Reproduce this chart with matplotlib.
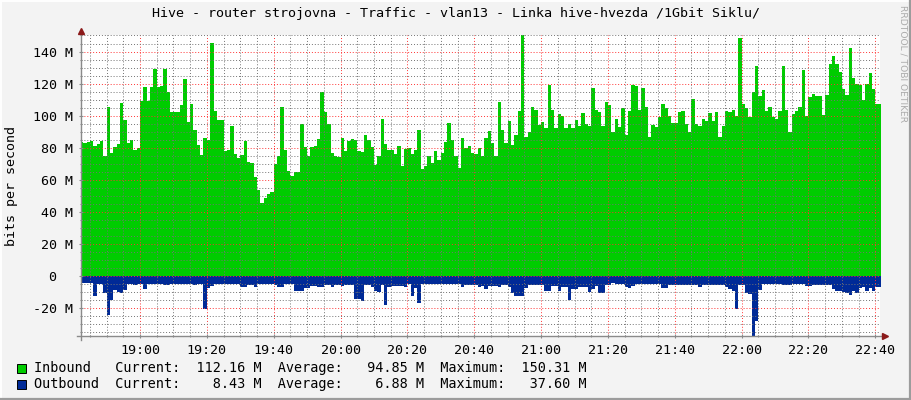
import numpy as np
import matplotlib
matplotlib.use("Agg")
import matplotlib.pyplot as plt
from matplotlib.patches import Rectangle
from matplotlib.lines import Line2D
from matplotlib.ticker import FixedLocator

# ---------------- data ----------------
title = "Hive - router strojovna - Traffic - vlan13 - Linka hive-hvezda /1Gbit Siklu/"
y_axis_label = "bits per second"
start_time = "18:42"   # time of first 1-minute sample

inbound_mbps = [
    83.7, 82.7, 83.7, 84.4, 80.8, 82.5, 84.4, 74.6, 105.6, 76.7,
    80.4, 82.3, 107.9, 97.1, 82.9, 85.0, 78.3, 79.8, 109.4, 117.9,
    109.4, 117.9, 129.2, 117.7, 118.3, 129.2, 114.6, 102.5, 102.5, 102.5,
    106.9, 122.9, 96.0, 107.5, 90.8, 81.9, 75.2, 86.0, 85.0, 145.4,
    103.1, 97.1, 97.5, 77.7, 78.7, 93.7, 76.2, 73.5, 75.6, 84.0,
    71.0, 70.4, 61.5, 53.7, 45.4, 48.5, 51.2, 52.0, 69.8, 74.6,
    105.2, 78.7, 65.6, 62.1, 64.6, 65.0, 94.8, 80.4, 74.6, 80.4,
    81.2, 85.6, 115.0, 102.0, 95.0, 76.7, 75.0, 74.2, 86.2, 77.7,
    84.4, 85.6, 84.6, 77.7, 77.1, 88.1, 85.0, 80.4, 69.4, 74.6,
    98.1, 82.5, 78.3, 78.7, 76.2, 81.2, 68.3, 79.2, 79.8, 76.0,
    78.3, 91.2, 66.7, 68.7, 75.0, 70.4, 78.1, 72.1, 76.7, 83.5,
    95.4, 85.0, 75.0, 67.3, 86.0, 79.8, 80.8, 76.7, 76.2, 79.8,
    75.0, 86.0, 90.6, 82.9, 75.0, 108.5, 91.2, 82.9, 96.9, 81.9,
    88.1, 103.1, 150.3, 86.4, 90.0, 105.4, 103.7, 94.4, 96.0, 92.0,
    119.4, 103.7, 92.0, 101.2, 99.6, 92.0, 94.8, 92.0, 97.5, 93.3,
    101.7, 94.8, 93.3, 117.3, 103.7, 102.5, 93.3, 108.7, 106.7, 89.6,
    97.9, 92.7, 104.8, 88.1, 103.1, 119.4, 118.3, 103.7, 117.3, 105.4,
    86.4, 94.4, 92.7, 99.2, 107.5, 104.8, 99.6, 95.4, 95.4, 102.5,
    103.1, 95.0, 89.6, 110.6, 94.8, 93.3, 97.9, 96.5, 101.7, 96.5,
    102.5, 86.4, 93.7, 103.1, 102.0, 103.5, 99.6, 148.5, 107.3, 104.6,
    99.0, 114.6, 130.8, 112.0, 116.2, 102.7, 105.4, 99.2, 98.1, 102.7,
    131.2, 103.7, 89.6, 101.2, 103.1, 105.6, 128.7, 100.0, 111.7, 113.7,
    112.0, 112.5, 100.6, 113.1, 131.9, 137.5, 132.5, 127.1, 116.7, 113.1,
    142.3, 123.5, 120.0, 119.4, 110.0, 120.0, 126.7, 116.7, 107.5, 107.5,
]

outbound_mbps = [
    4.6, 4.6, 4.6, 4.8, 12.9, 5.0, 5.0, 10.8, 24.4, 15.0,
    8.7, 10.4, 10.8, 8.7, 5.0, 5.0, 6.0, 5.0, 5.0, 8.3,
    5.0, 5.0, 5.0, 5.0, 5.0, 5.5, 5.5, 5.0, 5.0, 5.0,
    5.0, 5.0, 5.0, 5.0, 6.0, 5.0, 5.0, 20.8, 7.7, 6.2,
    5.0, 5.0, 5.0, 5.0, 5.0, 5.0, 5.0, 5.0, 6.7, 6.7,
    5.6, 5.6, 6.7, 5.0, 5.0, 5.0, 5.0, 5.0, 5.6, 7.0,
    7.0, 5.0, 5.0, 5.0, 9.2, 9.2, 9.2, 7.7, 7.7, 6.2,
    6.2, 7.0, 7.0, 5.6, 5.6, 6.7, 5.6, 5.6, 6.2, 5.6,
    5.6, 5.6, 14.6, 14.6, 16.0, 5.6, 5.6, 6.7, 9.2, 10.4,
    5.6, 18.1, 7.0, 6.2, 6.2, 6.2, 6.2, 7.0, 5.0, 12.5,
    7.7, 17.0, 5.0, 5.2, 5.2, 5.2, 5.2, 5.2, 5.2, 5.2,
    5.2, 5.2, 5.2, 5.2, 6.7, 5.6, 5.6, 5.6, 5.6, 6.7,
    6.2, 8.3, 6.2, 6.2, 6.2, 6.7, 5.6, 5.6, 6.7, 10.8,
    12.9, 12.9, 12.9, 7.7, 5.6, 5.6, 5.6, 5.6, 5.6, 9.2,
    9.2, 6.2, 6.2, 9.2, 7.0, 7.0, 15.4, 8.3, 8.3, 7.0,
    7.0, 7.0, 10.4, 8.3, 6.2, 10.8, 10.8, 5.6, 5.6, 4.6,
    5.0, 5.0, 5.0, 6.7, 7.7, 6.2, 5.2, 5.2, 5.2, 5.2,
    5.2, 5.2, 5.2, 5.2, 7.7, 7.7, 5.6, 5.6, 5.6, 5.6,
    5.6, 5.6, 5.6, 5.6, 5.6, 6.7, 5.6, 5.6, 5.6, 5.6,
    5.6, 5.6, 5.6, 6.7, 8.3, 9.8, 20.8, 5.6, 6.0, 11.0,
    11.5, 37.6, 28.0, 8.7, 5.2, 5.2, 5.2, 5.2, 5.2, 5.2,
    6.0, 6.0, 6.0, 5.2, 5.2, 5.2, 5.2, 6.2, 6.2, 5.6,
    5.6, 5.6, 5.6, 5.6, 5.6, 8.3, 9.2, 9.8, 10.4, 10.8,
    11.9, 9.8, 10.8, 7.7, 7.0, 9.2, 7.7, 9.8, 6.7, 6.7,
]

x_tick_labels = ["19:00", "19:20", "19:40", "20:00", "20:20", "20:40",
                 "21:00", "21:20", "21:40", "22:00", "22:20", "22:40"]
y_tick_values = [-20, 0, 20, 40, 60, 80, 100, 120, 140]
y_tick_labels = ["-20 M", "0  ", "20 M", "40 M", "60 M", "80 M",
                 "100 M", "120 M", "140 M"]

series_names = ["Inbound", "Outbound"]
series_colors = ["#00CC00", "#002A97"]
current_vals = ["112.16 M", "8.43 M"]
average_vals = ["94.85 M", "6.88 M"]
maximum_vals = ["150.31 M", "37.60 M"]

# ---------------- helpers ----------------
def minutes_after_start(label):
    h, m = map(int, label.split(":"))
    h0, m0 = map(int, start_time.split(":"))
    return (h * 60 + m) - (h0 * 60 + m0)

MONO = "DejaVu Sans Mono"
FS = 9.6
W, H = 911, 400

fig = plt.figure(figsize=(W / 100, H / 100), dpi=100, facecolor="#F3F3F3")

# plot area (pixel geometry from reference)
left_px, right_px, top_px, bottom_px = 81, 880, 35, 336
ax = fig.add_axes([left_px / W, 1 - bottom_px / H,
                   (right_px - left_px) / W, (bottom_px - top_px) / H])
ax.set_facecolor("white")

n = len(inbound_mbps)
t = np.arange(n + 1)
inb = np.array(inbound_mbps + [inbound_mbps[-1]])
outb = -np.array(outbound_mbps + [outbound_mbps[-1]])

ax.fill_between(t, 0, inb, step="post", color=series_colors[0], lw=0, zorder=1)
ax.fill_between(t, 0, outb, step="post", color=series_colors[1], lw=0, zorder=1)

ax.set_xlim(0.35, 239.4)
ax.set_ylim(-37.6, 150.31)

# ticks and grid
major_x = [minutes_after_start(l) for l in x_tick_labels]
ax.xaxis.set_major_locator(FixedLocator(major_x))
ax.set_xticklabels(x_tick_labels)
ax.xaxis.set_minor_locator(FixedLocator(np.arange(3, 240, 5)))
ax.yaxis.set_major_locator(FixedLocator(y_tick_values))
ax.set_yticklabels(y_tick_labels)
ax.yaxis.set_minor_locator(FixedLocator(np.arange(-35, 151, 5)))

ax.set_axisbelow(False)
ax.grid(which="minor", color=(0.45, 0.45, 0.45, 0.2), linestyle=(0, (1, 2)), lw=0.7)
ax.grid(which="major", color=(1.0, 0.2, 0.2, 0.18), linestyle=(0, (1, 2)), lw=0.7)

for lab in ax.get_xticklabels() + ax.get_yticklabels():
    lab.set_fontfamily(MONO)
    lab.set_fontsize(FS)
    lab.set_color("#000000")

ax.tick_params(axis="both", which="major", length=3, width=0.8, color="#8a8a8a",
               direction="inout")
ax.tick_params(axis="both", which="minor", length=2, width=0.8, color="#8a8a8a",
               direction="inout")
ax.tick_params(axis="y", which="major", pad=4.5)
ax.tick_params(axis="x", which="major", pad=4.2)

for s in ax.spines.values():
    s.set_visible(False)

# axis lines with arrows (RRD style)
axcol = "#8a8a8a"
ax.add_line(Line2D([0, 0], [-0.012, 1.01], transform=ax.transAxes, color=axcol,
                   lw=1.0, clip_on=False, zorder=5))
ax.add_line(Line2D([-0.005, 1.004], [0, 0], transform=ax.transAxes, color=axcol,
                   lw=1.0, clip_on=False, zorder=5))
ax.plot([0], [1.012], marker="^", ms=4.5, color="#8B1A1A", transform=ax.transAxes,
        clip_on=False, zorder=6)
ax.plot([1.006], [0], marker=">", ms=4.5, color="#8B1A1A", transform=ax.transAxes,
        clip_on=False, zorder=6)

# title and labels
fig.text(455.5 / W, 1 - 14 / H, title, ha="center", va="center",
         fontfamily=MONO, fontsize=FS, color="#000000")
fig.text(12 / W, 1 - 186 / H, y_axis_label, rotation=90, ha="center", va="center",
         fontfamily=MONO, fontsize=FS, color="#000000")
fig.text(903 / W, 1 - 5 / H, "RRDTOOL / TOBI OETIKER", rotation=270, ha="center",
         va="top", fontfamily="DejaVu Sans", fontsize=6.6, color="#ACACAC")

# legend rows
row_centers = [368, 384]
for i in range(2):
    yc = row_centers[i]
    fig.add_artist(Rectangle((17 / W, 1 - (yc + 4.5) / H), 9 / W, 9 / H,
                             transform=fig.transFigure, facecolor=series_colors[i],
                             edgecolor="#000000", lw=0.7))
    line = "%-10sCurrent:  %8s  Average:  %8s  Maximum:  %8s" % (
        series_names[i], current_vals[i], average_vals[i], maximum_vals[i])
    fig.text(34 / W, 1 - yc / H, line, ha="left", va="center",
             fontfamily=MONO, fontsize=9.75, color="#000000")

# 3D frame around image
fig.add_artist(Line2D([0, 1], [1 - 0.5 / H] * 2, transform=fig.transFigure, color="#FFFFFF", lw=1.4))
fig.add_artist(Line2D([0.5 / W] * 2, [0, 1], transform=fig.transFigure, color="#FFFFFF", lw=1.4))
fig.add_artist(Line2D([0, 1], [1 / H] * 2, transform=fig.transFigure, color="#9C9C9C", lw=1.6))
fig.add_artist(Line2D([1 - 1 / W] * 2, [0, 1], transform=fig.transFigure, color="#9C9C9C", lw=1.6))

fig.savefig("out.png", dpi=100, facecolor=fig.get_facecolor())
